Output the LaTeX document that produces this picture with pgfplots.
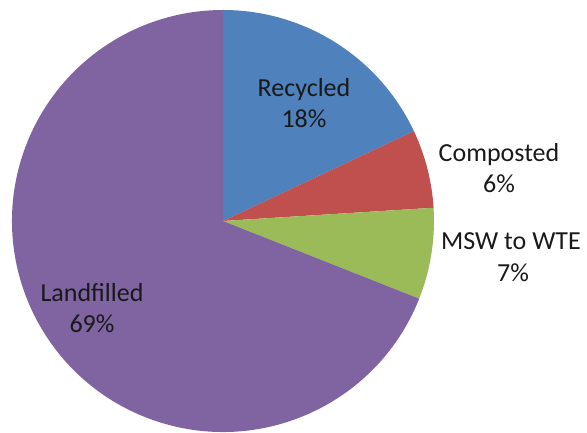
\documentclass[border=0pt]{standalone}
\usepackage{pgfplots}
\usepackage{pgfplotstable}
\pgfplotsset{compat=1.18}
\usepackage{fontspec}
\setmainfont{Carlito}

\definecolor{cRec}{HTML}{4F81BD}
\definecolor{cCom}{HTML}{C0504D}
\definecolor{cMsw}{HTML}{9BBB59}
\definecolor{cLan}{HTML}{8064A2}

% shares in percent, clockwise from 12 o'clock
\pgfplotstableread{
label       value
Recycled    18
Composted   6
MSWtoWTE    7
Landfilled  69
}\piedata

\pgfplotstablegetelem{0}{value}\of\piedata \let\vA\pgfplotsretval
\pgfplotstablegetelem{1}{value}\of\piedata \let\vB\pgfplotsretval
\pgfplotstablegetelem{2}{value}\of\piedata \let\vC\pgfplotsretval
\pgfplotstablegetelem{3}{value}\of\piedata \let\vD\pgfplotsretval
\pgfmathsetmacro\aA{90}
\pgfmathsetmacro\aB{\aA-3.6*\vA}
\pgfmathsetmacro\aC{\aB-3.6*\vB}
\pgfmathsetmacro\aD{\aC-3.6*\vC}
\pgfmathsetmacro\aE{\aD-3.6*\vD}

\begin{document}
\begin{tikzpicture}
\begin{axis}[
    scale only axis,
    width=587pt, height=433pt,
    xmin=0, xmax=587, ymin=0, ymax=433,
    hide axis,
    clip=false,
]
\def\R{211pt}
\fill[cRec] (axis cs:223,212) -- ++(\aA:\R) arc[start angle=\aA, end angle=\aB, radius=\R] -- cycle;
\fill[cCom] (axis cs:223,212) -- ++(\aB:\R) arc[start angle=\aB, end angle=\aC, radius=\R] -- cycle;
\fill[cMsw] (axis cs:223,212) -- ++(\aC:\R) arc[start angle=\aC, end angle=\aD, radius=\R] -- cycle;
\fill[cLan] (axis cs:223,212) -- ++(\aD:\R) arc[start angle=\aD, end angle=\aE, radius=\R] -- cycle;

\tikzset{lbl/.style={anchor=base, inner sep=0pt, text=black!90, font=\fontsize{26}{31}\selectfont}}
\node[lbl] at (axis cs:304,336) {Recycled};
\node[lbl] at (axis cs:304,305) {18\%};
\node[lbl] at (axis cs:499,271) {Composted};
\node[lbl] at (axis cs:499,240) {6\%};
\node[lbl] at (axis cs:511,183) {MSW to WTE};
\node[lbl] at (axis cs:513,151) {7\%};
\node[lbl] at (axis cs:92,131) {Landfilled};
\node[lbl] at (axis cs:92,100) {69\%};
\end{axis}
\pgfresetboundingbox
\useasboundingbox (current axis.south west) rectangle (current axis.north east);
\end{tikzpicture}
\end{document}
